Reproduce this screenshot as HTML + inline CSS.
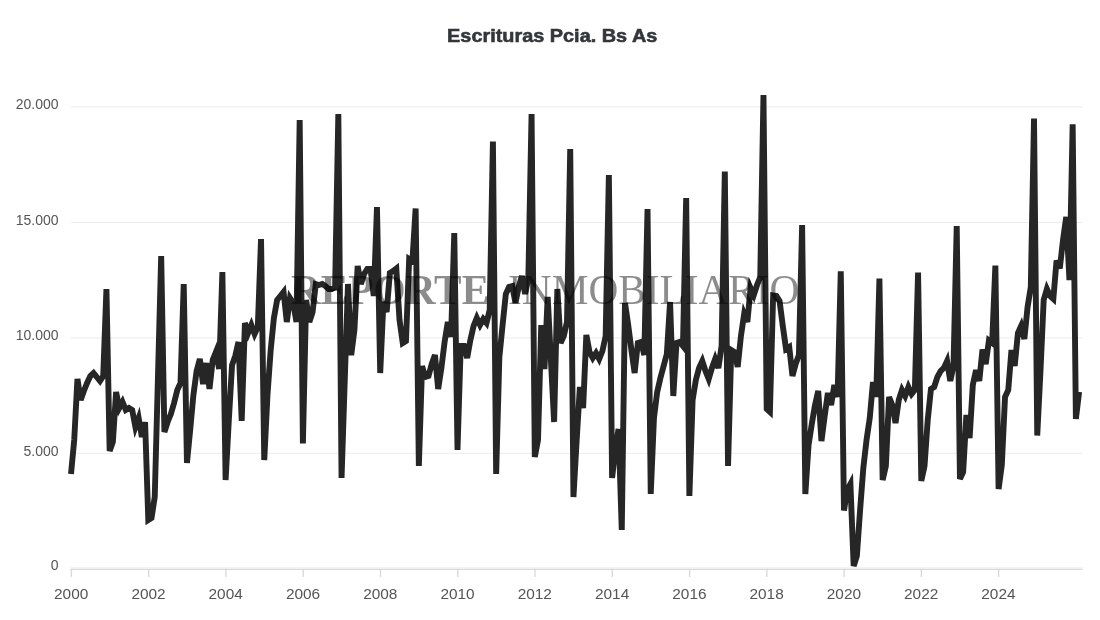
<!DOCTYPE html>
<html><head><meta charset="utf-8"><title>Escrituras Pcia. Bs As</title>
<style>
html,body{margin:0;padding:0;background:#fff;}
body{width:1100px;height:620px;overflow:hidden;}
svg{display:block;}
text{font-family:"Liberation Sans",Arial,sans-serif;}
.yl{font-size:14px;fill:#555;}
.xl{font-size:15.4px;fill:#555;}
.tt{font-size:17.5px;font-weight:bold;fill:#33363a;stroke:#33363a;stroke-width:0.55px;}
.wm{font-family:"Liberation Serif","Times New Roman",serif;font-size:41.3px;fill:#000;fill-opacity:0.45;}
</style></head>
<body>
<svg width="1100" height="620" viewBox="0 0 1100 620">
<rect x="0" y="0" width="1100" height="620" fill="#ffffff"/>
<path d="M71 106.9 H1082.5" stroke="#ebebeb" stroke-width="1" fill="none"/>
<path d="M71 222.4 H1082.5" stroke="#ebebeb" stroke-width="1" fill="none"/>
<path d="M71 337.9 H1082.5" stroke="#ebebeb" stroke-width="1" fill="none"/>
<path d="M71 453.3 H1082.5" stroke="#ebebeb" stroke-width="1" fill="none"/>
<path d="M70.5 567.9 H1082.5" stroke="#ececec" stroke-width="1" fill="none"/>
<path d="M70.5 569.3 H1082.5" stroke="#d9d9d9" stroke-width="1.2" fill="none"/>
<path d="M71.40 568.8 V577" stroke="#d8d8d8" stroke-width="1.3" fill="none"/>
<path d="M148.67 568.8 V577" stroke="#d8d8d8" stroke-width="1.3" fill="none"/>
<path d="M225.94 568.8 V577" stroke="#d8d8d8" stroke-width="1.3" fill="none"/>
<path d="M303.21 568.8 V577" stroke="#d8d8d8" stroke-width="1.3" fill="none"/>
<path d="M380.48 568.8 V577" stroke="#d8d8d8" stroke-width="1.3" fill="none"/>
<path d="M457.75 568.8 V577" stroke="#d8d8d8" stroke-width="1.3" fill="none"/>
<path d="M535.02 568.8 V577" stroke="#d8d8d8" stroke-width="1.3" fill="none"/>
<path d="M612.29 568.8 V577" stroke="#d8d8d8" stroke-width="1.3" fill="none"/>
<path d="M689.56 568.8 V577" stroke="#d8d8d8" stroke-width="1.3" fill="none"/>
<path d="M766.83 568.8 V577" stroke="#d8d8d8" stroke-width="1.3" fill="none"/>
<path d="M844.10 568.8 V577" stroke="#d8d8d8" stroke-width="1.3" fill="none"/>
<path d="M921.37 568.8 V577" stroke="#d8d8d8" stroke-width="1.3" fill="none"/>
<path d="M998.64 568.8 V577" stroke="#d8d8d8" stroke-width="1.3" fill="none"/>
<text x="0" y="41.8" text-anchor="middle" class="tt" transform="translate(552.2 0) scale(1.136 1)">Escrituras Pcia. Bs As</text>
<path d="M71.00 474.00 L74.22 440.00 L77.44 379.00 L80.66 400.00 L83.88 391.00 L87.10 383.00 L90.32 376.00 L93.55 373.00 L96.77 377.00 L99.99 381.00 L103.21 376.00 L106.43 289.00 L109.65 451.00 L112.87 442.00 L116.09 392.00 L119.31 408.00 L122.53 402.00 L125.75 410.00 L128.97 408.00 L132.20 410.00 L135.42 427.00 L138.64 418.00 L141.86 437.00 L145.08 422.00 L148.30 520.00 L151.52 518.00 L154.74 497.00 L157.96 377.00 L161.18 256.00 L164.40 432.00 L167.62 422.00 L170.84 414.00 L174.07 403.00 L177.29 390.00 L180.51 383.00 L183.73 284.00 L186.95 463.00 L190.17 430.00 L193.39 395.00 L196.61 371.00 L199.83 359.00 L203.05 384.00 L206.27 363.00 L209.49 389.00 L212.72 360.00 L215.94 352.00 L219.16 369.00 L222.38 272.00 L225.60 480.00 L228.82 420.00 L232.04 365.00 L235.26 356.00 L238.48 342.00 L241.70 421.00 L244.92 323.00 L248.14 333.00 L251.36 325.00 L254.59 334.00 L257.81 327.00 L261.03 239.00 L264.25 460.00 L267.47 395.00 L270.69 350.00 L273.91 318.00 L277.13 300.00 L280.35 296.00 L283.57 292.00 L286.79 322.00 L290.01 298.00 L293.24 303.00 L296.46 322.00 L299.68 120.00 L302.90 443.50 L306.12 300.00 L309.34 322.00 L312.56 312.00 L315.78 284.00 L319.00 285.00 L322.22 284.00 L325.44 286.00 L328.66 289.00 L331.88 289.00 L335.11 287.00 L338.33 114.00 L341.55 478.00 L344.77 380.00 L347.99 284.00 L351.21 355.00 L354.43 330.00 L357.65 266.00 L360.87 284.00 L364.09 274.00 L367.31 269.00 L370.53 269.00 L373.76 296.00 L376.98 207.00 L380.20 373.00 L383.42 302.00 L386.64 312.00 L389.86 273.00 L393.08 271.00 L396.30 268.50 L399.52 320.00 L402.74 343.00 L405.96 341.00 L409.18 259.00 L412.40 261.00 L415.63 208.50 L418.85 466.00 L422.07 366.00 L425.29 377.00 L428.51 376.00 L431.73 364.00 L434.95 355.00 L438.17 389.00 L441.39 368.00 L444.61 342.00 L447.83 322.00 L451.05 337.00 L454.28 233.00 L457.50 450.00 L460.72 346.00 L463.94 346.00 L467.16 358.00 L470.38 340.00 L473.60 326.00 L476.82 318.00 L480.04 325.00 L483.26 319.00 L486.48 323.00 L489.70 310.00 L492.92 141.50 L496.15 474.00 L499.37 357.00 L502.59 325.00 L505.81 294.00 L509.03 287.00 L512.25 286.00 L515.47 303.00 L518.69 287.00 L521.91 276.00 L525.13 294.00 L528.35 278.00 L531.57 114.00 L534.80 457.00 L538.02 440.00 L541.24 325.00 L544.46 369.00 L547.68 297.00 L550.90 360.00 L554.12 422.00 L557.34 289.00 L560.56 343.00 L563.78 336.00 L567.00 322.00 L570.22 149.00 L573.44 497.00 L576.67 440.00 L579.89 387.00 L583.11 408.00 L586.33 335.00 L589.55 352.00 L592.77 358.00 L595.99 353.00 L599.21 359.00 L602.43 351.00 L605.65 336.00 L608.87 175.00 L612.09 478.00 L615.32 450.00 L618.54 429.00 L621.76 530.00 L624.98 303.00 L628.20 325.00 L631.42 350.00 L634.64 373.00 L637.86 343.00 L641.08 342.00 L644.30 355.00 L647.52 209.00 L650.74 494.00 L653.96 418.00 L657.19 392.00 L660.41 378.00 L663.63 366.00 L666.85 354.00 L670.07 302.00 L673.29 396.00 L676.51 343.00 L679.73 342.00 L682.95 346.00 L686.17 198.00 L689.39 496.00 L692.61 400.00 L695.84 380.00 L699.06 368.00 L702.28 361.00 L705.50 371.00 L708.72 379.00 L711.94 368.00 L715.16 359.00 L718.38 368.00 L721.60 346.00 L724.82 171.50 L728.04 466.00 L731.26 350.00 L734.48 352.00 L737.71 367.00 L740.93 336.00 L744.15 314.00 L747.37 322.00 L750.59 288.00 L753.81 295.00 L757.03 285.00 L760.25 277.00 L763.47 95.00 L766.69 409.00 L769.91 412.00 L773.13 295.50 L776.36 296.00 L779.58 301.00 L782.80 326.00 L786.02 349.00 L789.24 347.00 L792.46 376.00 L795.68 364.00 L798.90 355.00 L802.12 225.00 L805.34 494.00 L808.56 445.00 L811.78 424.00 L815.00 405.00 L818.23 391.00 L821.45 441.00 L824.67 416.00 L827.89 393.00 L831.11 405.00 L834.33 385.00 L837.55 397.00 L840.77 271.30 L843.99 510.50 L847.21 490.00 L850.43 484.00 L853.65 566.00 L856.88 556.00 L860.10 510.00 L863.32 468.00 L866.54 440.00 L869.76 418.00 L872.98 382.00 L876.20 397.00 L879.42 278.60 L882.64 480.00 L885.86 466.00 L889.08 397.00 L892.30 405.00 L895.52 423.00 L898.75 400.00 L901.97 390.00 L905.19 396.00 L908.41 387.00 L911.63 394.00 L914.85 390.00 L918.07 272.60 L921.29 481.00 L924.51 466.00 L927.73 420.00 L930.95 389.00 L934.17 387.00 L937.40 377.00 L940.62 371.00 L943.84 368.00 L947.06 361.00 L950.28 381.00 L953.50 366.00 L956.72 226.00 L959.94 479.00 L963.16 472.00 L966.38 415.00 L969.60 438.00 L972.82 385.00 L976.04 370.00 L979.27 381.00 L982.49 349.50 L985.71 364.00 L988.93 340.50 L992.15 343.00 L995.37 265.50 L998.59 489.00 L1001.81 465.00 L1005.03 397.00 L1008.25 390.00 L1011.47 350.00 L1014.69 366.00 L1017.92 333.00 L1021.14 326.00 L1024.36 339.00 L1027.58 307.00 L1030.80 287.00 L1034.02 118.50 L1037.24 435.50 L1040.46 371.00 L1043.68 300.00 L1046.90 289.00 L1050.12 296.00 L1053.34 299.00 L1056.56 260.50 L1059.79 268.50 L1063.01 240.00 L1066.23 217.00 L1069.45 280.00 L1072.67 124.30 L1075.89 419.00 L1079.11 392.00" fill="none" stroke="#262626" stroke-width="5.90" stroke-linejoin="miter" stroke-miterlimit="4" stroke-linecap="butt"/>
<text y="304.3" class="wm"><tspan x="291" font-weight="bold">REPORTE</tspan> <tspan x="508.1">INMOBILIARIO</tspan></text>
<text x="58.5" y="109.1" text-anchor="end" class="yl">20.000</text>
<text x="58.5" y="224.6" text-anchor="end" class="yl">15.000</text>
<text x="58.5" y="340.1" text-anchor="end" class="yl">10.000</text>
<text x="58.5" y="455.5" text-anchor="end" class="yl">5.000</text>
<text x="58.5" y="569.9" text-anchor="end" class="yl">0</text>
<text x="71.2" y="599.2" text-anchor="middle" class="xl">2000</text>
<text x="148.5" y="599.2" text-anchor="middle" class="xl">2002</text>
<text x="225.7" y="599.2" text-anchor="middle" class="xl">2004</text>
<text x="303.0" y="599.2" text-anchor="middle" class="xl">2006</text>
<text x="380.3" y="599.2" text-anchor="middle" class="xl">2008</text>
<text x="457.5" y="599.2" text-anchor="middle" class="xl">2010</text>
<text x="534.8" y="599.2" text-anchor="middle" class="xl">2012</text>
<text x="612.1" y="599.2" text-anchor="middle" class="xl">2014</text>
<text x="689.4" y="599.2" text-anchor="middle" class="xl">2016</text>
<text x="766.6" y="599.2" text-anchor="middle" class="xl">2018</text>
<text x="843.9" y="599.2" text-anchor="middle" class="xl">2020</text>
<text x="921.2" y="599.2" text-anchor="middle" class="xl">2022</text>
<text x="998.4" y="599.2" text-anchor="middle" class="xl">2024</text>
</svg>
</body></html>
